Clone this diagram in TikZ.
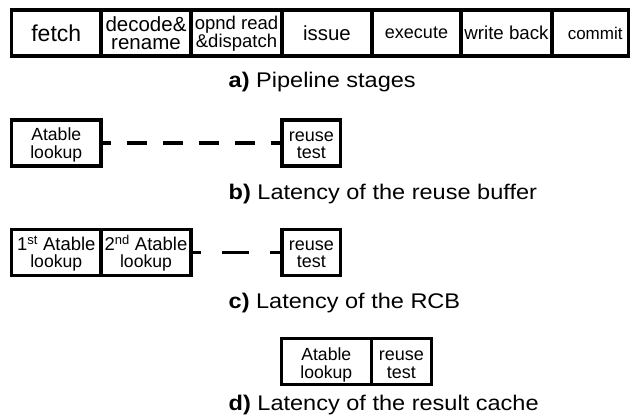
\documentclass[tikz,border=0pt]{standalone}
\usepackage{fontspec}
\setmainfont{Liberation Sans}
\newfontfamily\capfont{Liberation Sans}[FakeStretch=1.11]
\newcommand{\fs}[2]{\fontsize{#1}{#2}\selectfont}
% invisible strut that pushes a two-line label down by #1
\newcommand{\sink}[1]{\rule{0pt}{\dimexpr\fontcharht\font`l+#1+#1\relax}}

\tikzset{
  cell/.style={draw, line width=3.2pt, inner sep=0pt, outer sep=0pt,
    align=center, anchor=center},
  toprow/.style={cell, minimum height=46pt},
  lowrow/.style={cell, minimum height=46pt, font=\fs{17.6}{17.5}},
  testfont/.style={font=\fs{18}{17.5}},
  gapline/.style={line width=3.2pt},
  caption/.style={anchor=base west, inner sep=0pt,
    font=\capfont\fs{21.2}{24}},
}

\begin{document}
\begin{tikzpicture}[x=1pt, y=-1pt]
  \useasboundingbox (0,0) rectangle (630,415);

  % a) the seven pipeline stages
  \node[toprow, minimum width=89.5pt, font=\fs{23}{27}]     (fetch)  at (56.25,33) {fetch};
  \node[toprow, minimum width=90pt,   font=\fs{20.5}{18.2}] (decode) at (146,33)  {decode\&\\rename};
  \node[toprow, minimum width=91pt,   font=\fs{18.5}{16.6}] (opnd)   at (236.5,33) {\sink{1.2pt}opnd read\\\&dispatch};
  \node[toprow, minimum width=90pt,   font=\fs{20.4}{24}]   (issue)  at (327,33)  {issue};
  \node[toprow, minimum width=89pt,   font=\fs{18}{22}]     (exec)   at (416.5,33) {execute};
  \node[toprow, minimum width=91pt,   font=\fs{18.7}{22}]   (wback)  at (506.5,33) {write back};
  \node[toprow, minimum width=77.7pt, font=\fs{17}{21}]     (commit) at (590.15,33) {\hspace*{10pt}commit};
  \node[caption] (capa) at (228.5,87.7) {\textbf{a)} Pipeline stages};

  % b) reuse buffer
  \node[lowrow, minimum width=89.5pt] (bA) at (56.25,143) {\sink{2.5pt}Atable\\lookup};
  \node[lowrow, testfont, minimum width=58.7pt] (bR) at (311.35,143) {\sink{2.5pt}reuse\\test\vphantom{p}};
  \draw[gapline, dash pattern=on 20pt off 16pt, dash phase=10pt] (bA.east) -- (bR.west);
  \node[caption] (capb) at (228.5,199.3) {\textbf{b)} Latency of the reuse buffer};

  % c) RCB
  \node[lowrow, minimum width=89.5pt] (cA) at (56.25,252.5)
    {{\fs{18.5}{17.5}\sink{2pt}1\textsuperscript{st} Atable}\\lookup};
  \node[lowrow, minimum width=90pt] (cB) at (146,252.5)
    {{\fs{18.5}{17.5}\sink{2pt}2\textsuperscript{nd} Atable}\\lookup};
  \node[lowrow, testfont, minimum width=58.7pt] (cR) at (311.35,252.5) {\sink{2pt}reuse\\test\vphantom{p}};
  \draw[gapline, dash pattern=on 27pt off 21pt, dash phase=17pt] (cB.east) -- (cR.west);
  \node[caption] (capc) at (228.5,308.3) {\textbf{c)} Latency of the RCB};

  % d) result cache
  \node[lowrow, minimum width=90pt] (dA) at (326.3,361.85) {\sink{3.5pt}Atable\\lookup};
  \node[lowrow, testfont, minimum width=60pt] (dR) at (401.3,361.85) {\sink{3.5pt}reuse\\test\vphantom{p}};
  \node[caption] (capd) at (228.5,410) {\textbf{d)} Latency of the result cache};
\end{tikzpicture}
\end{document}
